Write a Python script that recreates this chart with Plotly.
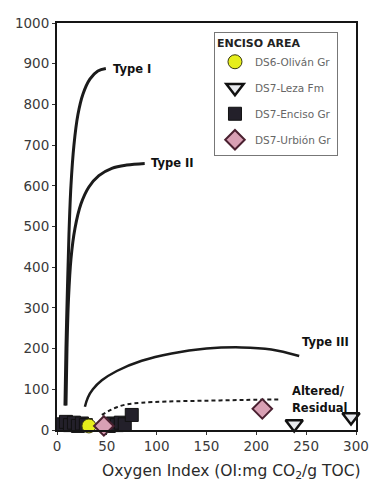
import plotly.graph_objects as go

# Maturation pathways for kerogen types (HI vs OI)
type1_oi = [8, 9, 10.5, 12, 14, 17, 21, 26, 33, 41, 49]
type1_hi = [60, 200, 350, 480, 600, 700, 775, 825, 862, 882, 888]

type2_oi = [9, 10, 11.5, 14, 18, 24, 32, 42, 55, 70, 88]
type2_hi = [60, 200, 320, 420, 495, 555, 597, 625, 643, 651, 655]

type3_oi = [28, 31, 36, 45, 60, 85, 115, 150, 185, 215, 243]
type3_hi = [57, 80, 100, 122, 145, 170, 188, 200, 203, 198, 182]

altered_oi = [45, 52, 60, 70, 85, 110, 150, 190, 225]
altered_hi = [37, 47, 56, 63, 67, 70, 72, 74, 75]

# Rock-Eval samples, Enciso area
olivan_oi = [32]
olivan_hi = [10]

leza_oi = [238, 295]
leza_hi = [15, 32]

enciso_oi = [5, 9, 13, 17, 21, 25, 29, 52, 56, 60, 64, 68, 75]
enciso_hi = [14, 20, 12, 18, 10, 16, 12, 10, 16, 12, 18, 14, 37]

urbion_oi = [47, 206]
urbion_hi = [10, 52]

x_ticks = [0, 50, 100, 150, 200, 250, 300]
y_ticks = [0, 100, 200, 300, 400, 500, 600, 700, 800, 900, 1000]

FONT = "DejaVu Sans"

fig = go.Figure()

curve_col = "#1b1b1b"
for xs, ys, w in [(type1_oi, type1_hi, 3), (type2_oi, type2_hi, 3), (type3_oi, type3_hi, 2.5)]:
    fig.add_trace(go.Scatter(x=xs, y=ys, mode="lines", showlegend=False,
                             line=dict(color=curve_col, width=w, shape="spline"),
                             hoverinfo="skip"))
fig.add_trace(go.Scatter(x=altered_oi, y=altered_hi, mode="lines", showlegend=False,
                         line=dict(color=curve_col, width=2, dash="4px,3px", shape="spline"),
                         hoverinfo="skip"))

fig.add_trace(go.Scatter(
    x=enciso_oi, y=enciso_hi, mode="markers", name="DS7-Enciso Gr", legendgroup="c",
    legendrank=3, cliponaxis=False,
    marker=dict(symbol="square", size=13, color="#23202a", line=dict(color="#111", width=1))))
fig.add_trace(go.Scatter(
    x=olivan_oi, y=olivan_hi, mode="markers", name="DS6-Oliván Gr", legendgroup="a",
    legendrank=1, cliponaxis=False,
    marker=dict(symbol="circle", size=14, color="#e6ee1c", line=dict(color="#3a3a10", width=1))))
fig.add_trace(go.Scatter(
    x=urbion_oi, y=urbion_hi, mode="markers", name="DS7-Urbión Gr", legendgroup="d",
    legendrank=4, cliponaxis=False,
    marker=dict(symbol="diamond", size=15, color="#d9a0b4", line=dict(color="#4a2030", width=2))))
fig.add_trace(go.Scatter(
    x=leza_oi, y=leza_hi, mode="markers", name="DS7-Leza Fm", legendgroup="b",
    legendrank=2, cliponaxis=False,
    marker=dict(symbol="triangle-down", size=15, color="#e8eaee", line=dict(color="#111", width=2.5))))

ann_font = dict(family=FONT, size=11.5, color="#111")
labels = [
    (54, 888, "<b>Type I</b>"),
    (92, 655, "<b>Type II</b>"),
    (244, 217, "<b>Type III</b>"),
    (234, 96, "<b>Altered/</b>"),
    (234, 54, "<b>Residual</b>"),
]
for x, y, t in labels:
    fig.add_annotation(x=x, y=y, text=t, showarrow=False, xanchor="left",
                       yanchor="middle", font=ann_font)

# x-axis title, set slightly right of the axis centre
fig.add_annotation(x=0.585, y=-0.103, xref="paper", yref="paper",
                   text="Oxygen Index (OI:mg CO<sub>2</sub>/g TOC)", showarrow=False,
                   xanchor="center", yanchor="middle",
                   font=dict(family=FONT, size=15.5, color="#2a2a2a"))

axis_common = dict(showgrid=False, zeroline=False, showline=True, linecolor="#151515",
                   linewidth=2, mirror=True, ticks="outside", ticklen=3, tickwidth=1,
                   tickcolor="#333",
                   tickfont=dict(family=FONT, size=13.5, color="#3a3a3a"))

fig.update_layout(
    width=381, height=488,
    margin=dict(l=57, r=18, t=23, b=58),
    paper_bgcolor="white", plot_bgcolor="white",
    font=dict(family=FONT, color="#222"),
    xaxis=dict(range=[0, 300], tickvals=x_ticks, **axis_common),
    yaxis=dict(range=[0, 1000], tickvals=y_ticks, **axis_common),
    legend=dict(x=0.525, y=0.978, xanchor="left", yanchor="top",
                bgcolor="white", bordercolor="#777", borderwidth=1,
                font=dict(family=FONT, size=10.5, color="#666"), tracegroupgap=7,
                itemwidth=30,
                title=dict(text="<b>ENCISO AREA</b>", font=dict(family=FONT, size=11, color="#222"))),
)

fig.write_html("out.html")
